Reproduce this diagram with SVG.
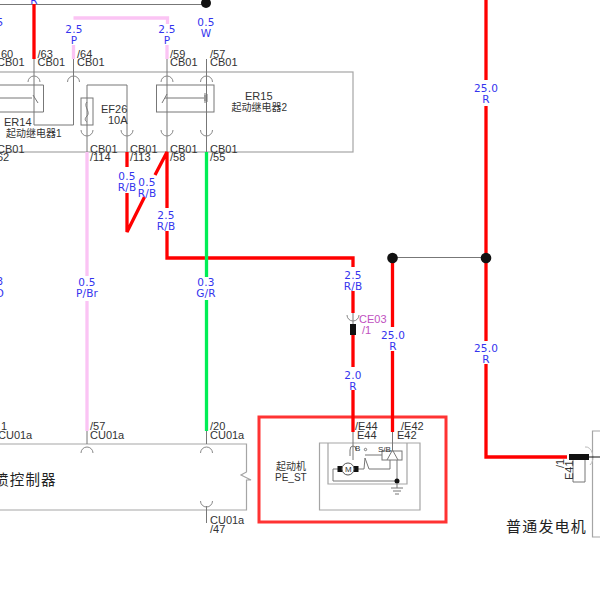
<svg xmlns="http://www.w3.org/2000/svg" width="600" height="602" viewBox="0 0 600 602">
<style>
text{font-family:"Liberation Sans","Noto Sans CJK SC",sans-serif;font-size:11px;fill:#333}
.b{fill:#3434ee;text-anchor:middle;font-family:"DejaVu Sans","Liberation Sans",sans-serif;font-size:10.500px;letter-spacing:.2px}
.m{fill:#c050c0;font-size:11px}
.cn{font-size:10px}
.big{font-size:14.500px;fill:#222;letter-spacing:1.200px}
.g{fill:none;stroke:#a5a5a5;stroke-width:1.200}
.d{fill:none;stroke:#777;stroke-width:1}
.r{fill:none;stroke:#f00;stroke-width:3.300}
.p{fill:none;stroke:#fbc4f4;stroke-width:3.300}
.gr{fill:none;stroke:#0e5;stroke-width:3.300}
.s{font-size:8px}
</style>
<defs>
<path id="up" d="M-6 6A6 6 0 0 1 6 6" fill="none" stroke="#888"/>
<path id="dn" d="M-6 0A6 6 0 0 0 6 0" fill="none" stroke="#888"/>
</defs>
<g id="frames">
<rect x="-5" y="72" width="358" height="80" class="g"/>
<path class="g" d="M0 444H246.500V472L241 475 251 480 246.500 480V510H0"/>
<path class="g" d="M600 431H592.500V537H600"/>
<rect x="259" y="417" width="187" height="105" fill="none" stroke="#f33" stroke-width="3"/>
</g>
<g id="connectors">
<path class="d" d="M0 4.500H206"/>
<path class="d" d="M34 59V125H73.500V59M167 59V152M206.500 59V152M87 85H127V152M87 85V152M87 444V430M206.500 430V444M206.500 506V523M393 257.500H486M353 313V324"/>
<path class="r" d="M34 4V59M127 152V167M127 193V232L144.500 197M155 175L167 152V208M167 231V258H353V267M353 291V313M353 335V367M353 390V432M392.500 258V327M392.500 351V432M486 0V80M486 106V341M486 364V457H567"/>
<path class="p" d="M73.500 45V59M73.500 18H167.500V24M167 45V59M87 152V276M87 301V431"/>
<path class="gr" d="M206.500 152V277M206.500 300V431"/>
</g>
<g id="wire-labels">
<text class="b" x="34" y="4">R</text>
<text class="b" x="74" y="33">2.5</text><text class="b" x="74" y="44">P</text>
<text class="b" x="167" y="33">2.5</text><text class="b" x="167" y="44">P</text>
<text class="b" x="206" y="26">0.5</text><text class="b" x="206" y="37">W</text>
<text class="b" x="127" y="180">0.5</text><text class="b" x="127" y="191">R/B</text>
<text class="b" x="147" y="186">0.5</text><text class="b" x="147" y="197">R/B</text>
<text class="b" x="166" y="219">2.5</text><text class="b" x="166" y="230">R/B</text>
<text class="b" x="87" y="286">0.5</text><text class="b" x="87" y="297">P/Br</text>
<text class="b" x="206" y="286">0.3</text><text class="b" x="206" y="297">G/R</text>
<text class="b" x="353" y="279">2.5</text><text class="b" x="353" y="290">R/B</text>
<text class="b" x="353" y="379">2.0</text><text class="b" x="353" y="390">R</text>
<text class="b" x="393" y="339">25.0</text><text class="b" x="393" y="350">R</text>
<text class="b" x="486" y="92">25.0</text><text class="b" x="486" y="103">R</text>
<text class="b" x="486" y="352">25.0</text><text class="b" x="486" y="363">R</text>
<text class="b" x="0" y="285">3</text><text class="b" x="0" y="297">D</text>
<text class="b" x="0" y="26">5</text>
</g>
<g id="connector-labels">
<text x="1" y="58">60</text><text x="-3" y="66">CB01</text>
<text x="37.500" y="58">/63</text><text x="37.500" y="66">CB01</text>
<text x="77" y="58">/64</text><text x="77" y="66">CB01</text>
<text x="170" y="58">/59</text><text x="170" y="66">CB01</text>
<text x="210" y="58">/57</text><text x="210" y="66">CB01</text>
<text x="-3" y="153">CB01</text><text x="-3" y="161">62</text>
<text x="90" y="153">CB01</text><text x="90" y="161">/114</text>
<text x="130" y="153">CB01</text><text x="130" y="161">/113</text>
<text x="170" y="153">CB01</text><text x="170" y="161">/58</text>
<text x="210" y="153">CB01</text><text x="210" y="161">/55</text>
<text x="1" y="430">1</text><text x="-2" y="439">CU01a</text>
<text x="90" y="430">/57</text><text x="90" y="439">CU01a</text>
<text x="210" y="430">/20</text><text x="210" y="439">CU01a</text>
<text x="210" y="524">CU01a</text><text x="210" y="533">/47</text>
<text x="355" y="430">/E44</text><text x="357" y="438.500">E44</text>
<text x="401" y="430">/E42</text><text x="397" y="438.500">E42</text>
</g>
<g id="ER14">
<path class="d" d="M0 85H43.500V112H0M0 98H32M33 95L38 103"/>
<use href="#up" x="34" y="76"/><use href="#up" x="73.500" y="76"/>
<text x="4" y="126">ER14</text><text class="cn" x="6" y="137">起动继电器1</text>
</g>
<g id="EF26">
<rect x="81" y="98" width="12" height="27" class="d"/>
<path class="d" d="M87 102C83 106 91 112 87 116S87 122 87 122"/>
<use href="#dn" x="87" y="130"/><use href="#dn" x="127" y="130"/>
<text x="101" y="113">EF26</text><text x="108" y="124">10A</text>
</g>
<g id="ER15">
<rect x="156.500" y="85" width="57.500" height="27" class="d"/>
<path class="d" d="M162 103L167 94M165 98H204"/>
<path class="d" d="M204 94h3v2h-3h3v2h-3h3v2h-3h3v2h-3"/>
<use href="#up" x="167" y="76"/><use href="#up" x="206.500" y="76"/>
<use href="#dn" x="167" y="130"/><use href="#dn" x="206.500" y="130"/>
<text x="245" y="100">ER15</text><text class="cn" x="231.500" y="110.500">起动继电器2</text>
</g>
<g id="CU01a">
<use href="#up" x="87" y="447"/><use href="#up" x="206.500" y="447"/><use href="#dn" x="206.500" y="501"/>
<text class="big" x="-6" y="485">喷控制器</text>
</g>
<g id="CE03">
<use href="#dn" x="353" y="315"/>
<rect x="350" y="324" width="6" height="11" fill="#111"/>
<text class="m" x="359" y="323">CE03</text><text class="m" x="362" y="334">/1</text>
</g>
<g id="junctions">
<circle cx="206" cy="3" r="5" fill="#111"/>
<circle cx="392.500" cy="258" r="5.300" fill="#111"/>
<circle cx="486" cy="258" r="5.300" fill="#111"/>
</g>
<g id="starter">
<path class="g" d="M319.500 443H420V510H319.500ZM328 443V484H407V443"/>
<rect x="382" y="451" width="20" height="9" class="d"/>
<path class="d" d="M353 432V460M350 456V450A3 4 0 0 1 356 450M392.500 432V450L387 460M392.500 450L398 460M397 460V481M333 469V481H397M343 469H333M358 469H364L365 458 369 469H390V460M365 455H382"/>
<circle cx="365.500" cy="449.500" r="1.200" fill="none" stroke="#777"/>
<rect x="337.500" y="466" width="5" height="6" fill="#111"/><rect x="353.500" y="466" width="5" height="6" fill="#111"/>
<circle cx="348" cy="469" r="6" fill="#fff" stroke="#555"/>
<circle cx="397" cy="481" r="2.500" fill="#111"/>
<path class="d" d="M397 483V488M391 488H403M393 491H401M395 494H399"/>
<text class="s" x="355" y="451">B</text><text class="s" x="378" y="452">S/B</text><text class="s" x="345" y="472">M</text>
<text class="cn" x="276" y="470">起动机</text><text class="cn" x="275" y="481">PE_ST</text>
</g>
<g id="generator">
<path class="d" d="M573 457V482H585V457"/>
<path d="M585 447A7 10 0 0 1 590 465" fill="none" stroke="#bbb"/>
<rect x="569" y="454" width="20" height="6" fill="#111"/>
<path d="M589 457H600" stroke="#111"/>
<text transform="translate(573 480) rotate(-90)">E41</text><text transform="translate(564 468) rotate(-90)">/1</text>
<text class="big" x="506" y="532" style="font-size:15px">普通发电机</text>
</g>
</svg>
